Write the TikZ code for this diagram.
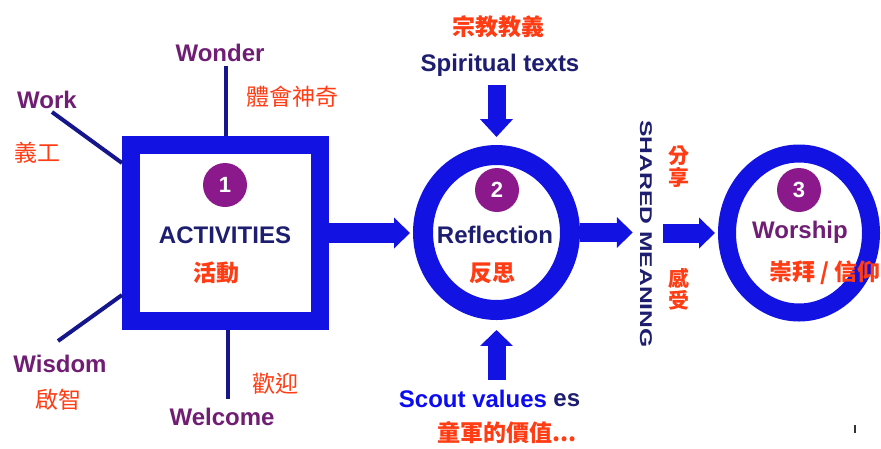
\documentclass[tikz,border=0pt]{standalone}
\usepackage{fontspec}
\setmainfont{Liberation Sans}
\newfontfamily\cjk{Noto Sans CJK TC}
\usetikzlibrary{calc,shapes.geometric,arrows.meta}

\definecolor{ringblue}{RGB}{18,18,226}
\definecolor{linenavy}{RGB}{22,22,140}
\definecolor{textnavy}{RGB}{30,30,112}
\definecolor{wordpurple}{RGB}{112,30,116}
\definecolor{badgepurple}{RGB}{140,25,140}
\definecolor{zhred}{RGB}{255,60,20}
\definecolor{scoutblue}{RGB}{12,12,240}

\tikzset{
	enlabel/.style={inner sep=0, font=\bfseries\fontsize{24}{26}\selectfont},
	zhlabel/.style={inner sep=0, text=zhred, font=\cjk\fontsize{23}{25}\selectfont},
	zhbold/.style={inner sep=0, text=zhred, font=\cjk\bfseries\fontsize{23}{25}\selectfont},
	badge/.style={circle, fill=badgepurple, text=white, minimum size=44pt, inner sep=0, font=\bfseries\fontsize{22}{22}\selectfont},
	ring/.style={ellipse, draw=ringblue, inner sep=0},
	spoke/.style={draw=linenavy, line width=4pt},
	fatarrow/.style={draw=ringblue, line width=20pt, -{Triangle[width=30pt,length=16pt]}},
}

\begin{document}
\begin{tikzpicture}[x=1pt, y=-1pt]
			%%%%% START %%%%%
			\useasboundingbox[fill=white] (0,0) rectangle (881,448);
			
			% the three stages
			\node[draw=ringblue, line width=18pt, minimum width=189pt, minimum height=176pt, inner sep=0] (act) at (225.5,233) {};
			\node[ring, line width=20pt, minimum width=147pt, minimum height=155pt] (refl) at (496.5,232.5) {};
			\node[ring, line width=18pt, minimum width=144pt, minimum height=159pt] (worship) at (799,233) {};
			
			\node[badge] (n1) at (225,185) {1};
			\node[badge] (n2) at (497,190) {2};
			\node[badge] (n3) at (799,190) {3};
			
			\node[enlabel, text=textnavy] (actlabel) at (225,235) {ACTIVITIES};
			\node[zhbold] (actzh) at (216,273) {活動};
			\node[enlabel, text=textnavy] (refllabel) at (495,235) {Reflection};
			\node[zhbold] (reflzh) at (492,273) {反思};
			\node[enlabel, text=wordpurple] (worshiplabel) at (800,232) {Worship};
			\node[zhbold] (worshipzh) at (825,273) {崇拜 / 信仰};
			
			% the four W's round the box
			\node[enlabel, text=wordpurple] (wonder) at (220,53) {Wonder};
			\node[enlabel, text=wordpurple] (work) at (47,100) {Work};
			\node[enlabel, text=wordpurple] (wisdom) at (60,364) {Wisdom};
			\node[enlabel, text=wordpurple] (welcome) at (222,417) {Welcome};
			\node[zhlabel] (wonderzh) at (292,97) {體會神奇};
			\node[zhlabel] (workzh) at (37,153) {義工};
			\node[zhlabel] (wisdomzh) at (58,400) {啟智};
			\node[zhlabel] (welcomezh) at (275,384) {歡迎};
			
			\draw[spoke, shorten <=4pt] (act.north |- wonder.south) -- (act.north);
			\draw[spoke] ($(work.south)+(5,3)$) -- ($(act.west)+(0,-70)$);
			\draw[spoke] ($(wisdom.north)+(-2,-14)$) -- ($(act.west)+(0,62)$);
			\draw[spoke] ($(act.south)+(2.5,0)$) -- ($(welcome.north)+(6,-9)$);
			
			% inputs to reflection
			\node[zhbold] (spiritzh) at (498,27) {宗教教義};
			\node[enlabel, text=textnavy] (spirit) at (500,65) {Spiritual texts};
			\node[enlabel, text=scoutblue, fill=white, inner xsep=5pt, inner ysep=10pt] (scout) at (473,399) {Scout values};
			\node[enlabel, text=textnavy, anchor=west] (scoutrest) at ($(scout.east)+(1,1)$) {es};
			
			\draw[fatarrow, line width=18pt, -{Triangle[width=32pt,length=18pt]}, shorten <=9pt, shorten >=8pt] (spirit.south -| refl.north) -- (refl.north);
			\draw[fatarrow, line width=18pt, -{Triangle[width=32pt,length=16pt]}] (scout.north -| refl.south) -- ++(0,-50);
			
			\node[zhbold] (scoutzh) at (507,433) {童軍的價值...};
			
			% shared meaning
			\node[inner sep=0, text=textnavy, rotate=-90, font=\bfseries\fontsize{17}{17}\selectfont] (shared) at (646,234) {\scalebox{1.45}[1]{SHARED MEANING}};
			\node[zhbold, align=center, font=\cjk\bfseries\fontsize{21}{22}\selectfont] (sharezh) at (679,167) {分\\享};
			\node[zhbold, align=center, font=\cjk\bfseries\fontsize{21}{22}\selectfont] (feelzh) at (679,289) {感\\受};
			
			\draw[fatarrow, shorten >=3pt] (act.east) -- (act.east -| refl.west);
			\draw[fatarrow, line width=19pt, shorten >=7pt] (refl.east) -- (refl.east -| shared.south);
			\draw[fatarrow, line width=19pt, shorten <=11pt, shorten >=3pt] (shared.north |- worship.west) -- (worship.west);
			
			\draw[line width=2pt, black!80] (855,425) -- (855,433);
			%%%%% END %%%%%
\end{tikzpicture}
\end{document}
